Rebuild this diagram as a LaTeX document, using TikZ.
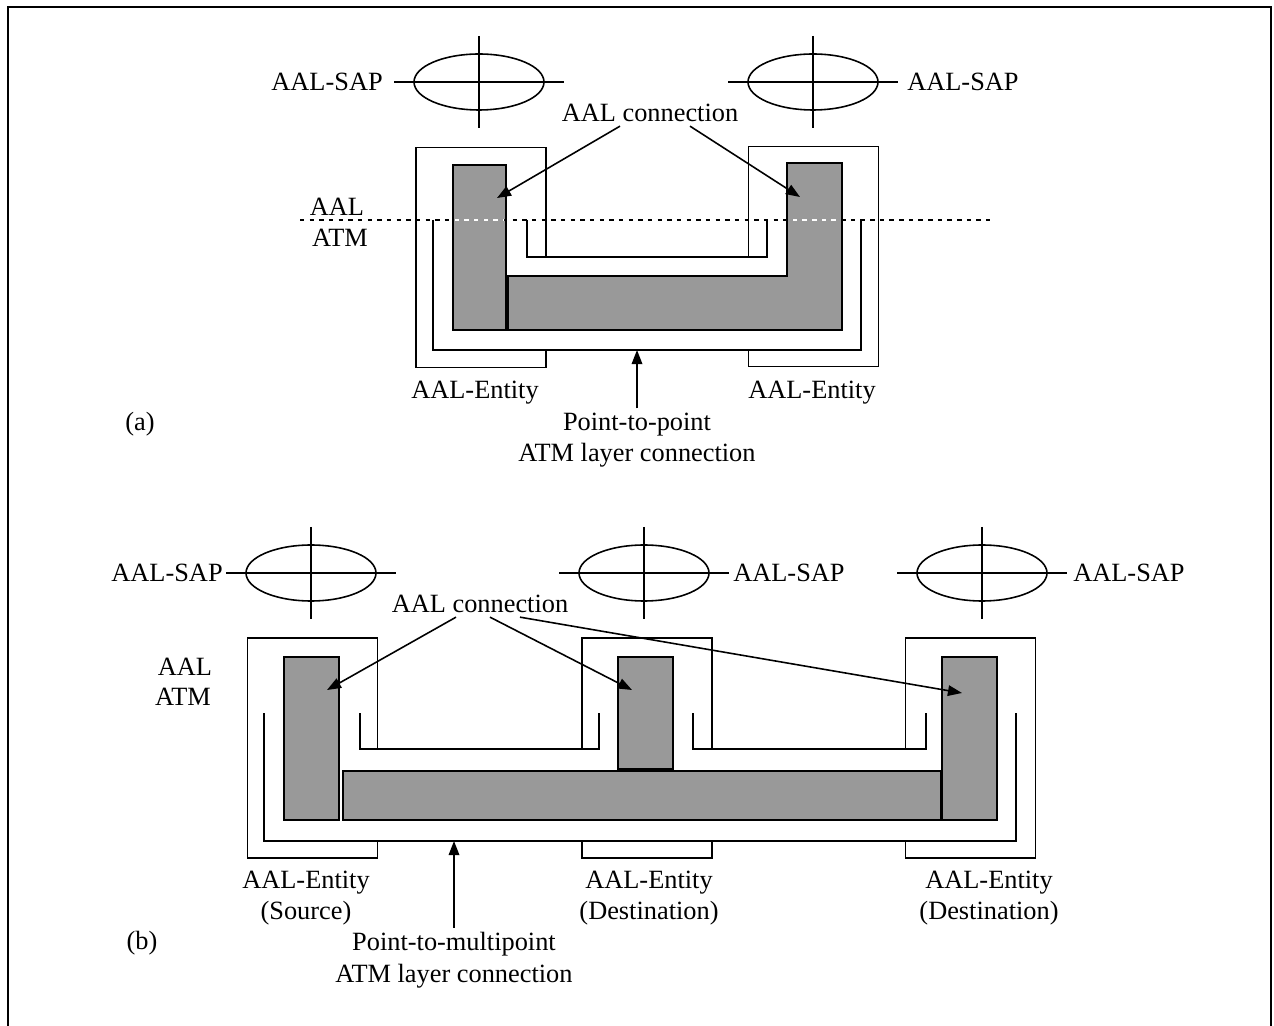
\documentclass[tikz,border=0pt]{standalone}
\usepackage{fontspec}
\setmainfont{Liberation Serif}
\usetikzlibrary{shapes.geometric, arrows.meta, positioning}

\begin{document}
\begin{tikzpicture}[
    x=0.02cm, y=-0.02cm, line width=0.9pt,
    lbl/.style={font=\fontsize{15}{18}\selectfont, align=center, inner sep=2pt},
    sap/.style={draw, ellipse, minimum width=2.6cm, minimum height=1.12cm, inner sep=0pt},
    entity/.style={draw, fill=white, minimum width=2.6cm, minimum height=4.4cm},
    aal/.style={draw, fill=black!40},
    conn/.style={-{Triangle[length=8pt,width=6pt]}},
    layer/.style={dash pattern=on 2.5pt off 3pt}
]
    \useasboundingbox (0,0) rectangle (1274,1026);
    % Frame
    \draw (8,1026) -- (8,7) -- (1271,7) -- (1271,1026);

    % SAP symbols
    \foreach \nm/\px/\py in {sapAL/479/82, sapAR/813/82, sapBL/311/573, sapBM/644/573, sapBR/982/573}{
        \node[sap] (\nm) at (\px,\py) {};
        \draw (\px-85,\py) -- (\px+85,\py);
        \draw (\px,\py-46) -- (\px,\py+46);
    }
    \node[lbl, anchor=east] (sapALtxt) at (387,82) {AAL-SAP};
    \node[lbl, anchor=west] (sapARtxt) at (903,82) {AAL-SAP};
    \node[lbl, anchor=east] (sapBLtxt) at (227,573) {AAL-SAP};
    \node[lbl, anchor=west] (sapBMtxt) at (729,573) {AAL-SAP};
    \node[lbl, anchor=west] (sapBRtxt) at (1069,573) {AAL-SAP};

    % ---- (a) point-to-point ----
    \node[entity] (entAL) at (481,257.5) {};
    \node[entity] (entAR) at (813.5,256.5) {};

    % ATM layer channel
    \fill[white] (433,220) -- (433,350) -- (861,350) -- (861,220) -- (767,220)
        -- (767,257) -- (527,257) -- (527,220) -- cycle;
    \draw (433,220) -- (433,350) -- (861,350) -- (861,220);
    \draw (527,220) -- (527,257) -- (767,257) -- (767,220);

    % AAL connection
    \draw[aal] (453,165) rectangle (506,330);
    \draw[aal] (787,163) -- (842,163) -- (842,330) -- (508,330) -- (508,276) -- (787,276) -- cycle;

    % AAL / ATM boundary
    \draw[layer] (300,220) -- (990,220);
    \begin{scope}
        \clip (455,167) rectangle (504,328) (789,165) rectangle (840,328);
        \draw[layer, white] (300,220) -- (990,220);
    \end{scope}

    \node[lbl] (aalA) at (337,207) {AAL};
    \node[lbl] (atmA) at (340,238) {ATM};

    \node[lbl] (conA) at (650,113) {AAL connection};
    \coordinate (tipAL) at (497,198);
    \coordinate (tipAR) at (800,197);
    \draw[conn] ([xshift=-0.6cm]conA.south) -- (tipAL);
    \draw[conn] ([xshift=0.8cm]conA.south) -- (tipAR);

    \node[lbl] (labAL) at (475,393) {AAL-Entity};
    \node[lbl] (labAR) at (812,393) {AAL-Entity};
    \node[lbl] (capA) at (140,424) {(a)};

    \node[lbl] (ptp) at (637,440) {Point-to-point\\ATM layer connection};
    \coordinate (bandA) at (637,350);
    \draw[conn] (ptp.north) -- (bandA);

    % ---- (b) point-to-multipoint ----
    \node[entity] (entBL) at (312.5,748) {};
    \node[entity] (entBM) at (647,748) {};
    \node[entity] (entBR) at (970.5,748) {};

    % ATM layer channel
    \fill[white] (264,713) -- (264,841) -- (1016,841) -- (1016,713) -- (926,713) -- (926,749)
        -- (693,749) -- (693,713) -- (599,713) -- (599,749) -- (360,749) -- (360,713) -- cycle;
    \draw (264,713) -- (264,841) -- (1016,841) -- (1016,713);
    \draw (360,713) -- (360,749) -- (599,749) -- (599,713);
    \draw (693,713) -- (693,749) -- (926,749) -- (926,713);

    % AAL connection
    \draw[aal] (284,657) rectangle (339,820);
    \draw[aal] (618,657) rectangle (673,769);
    \draw[aal] (343,771) rectangle (941,820);
    \draw[aal] (942,657) rectangle (997,820);

    \node[lbl] (aalB) at (185,667) {AAL};
    \node[lbl] (atmB) at (183,697) {ATM};

    \node[lbl] (conB) at (480,604) {AAL connection};
    \coordinate (tipBL) at (327,690);
    \coordinate (tipBM) at (632,690);
    \coordinate (tipBR) at (962,693);
    \draw[conn] ([xshift=-0.48cm]conB.south) -- (tipBL);
    \draw[conn] ([xshift=0.2cm]conB.south) -- (tipBM);
    \draw[conn] ([xshift=0.8cm]conB.south) -- (tipBR);

    \node[lbl] (labBL) at (306,898) {AAL-Entity\\(Source)};
    \node[lbl] (labBM) at (649,898) {AAL-Entity\\(Destination)};
    \node[lbl] (labBR) at (989,898) {AAL-Entity\\(Destination)};
    \node[lbl] (capB) at (142,943) {(b)};

    \node[lbl] (ptmp) at (454,960) {Point-to-multipoint\\ATM layer connection};
    \coordinate (bandB) at (454,841);
    \draw[conn] (ptmp.north) -- (bandB);
\end{tikzpicture}
\end{document}
